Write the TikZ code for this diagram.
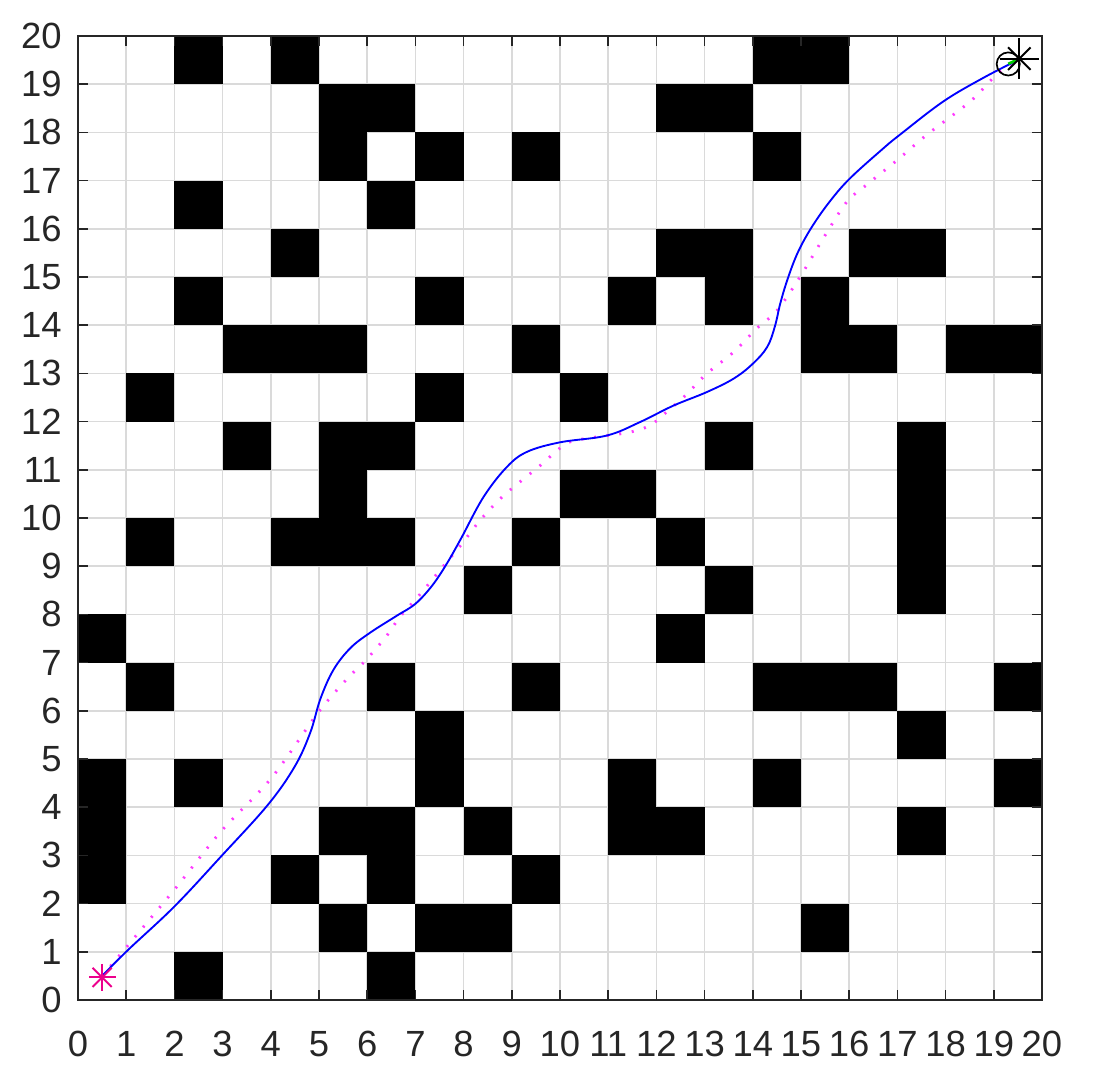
\documentclass[tikz,border=0pt]{standalone}
\usepackage{fontspec}
\setmainfont{Liberation Sans}
\usetikzlibrary{calc}
\definecolor{axc}{RGB}{38,38,38}
\definecolor{gridc}{RGB}{218,218,218}
\definecolor{dotc}{RGB}{255,60,255}
\begin{document}
\begin{tikzpicture}[x=1cm,y=1cm,
  lbl/.style={text=axc, font=\fontsize{21.5}{25}\selectfont, inner sep=0pt},
  gridline/.style={gridc, line width=0.9pt},
  tickline/.style={axc, line width=1pt},
  cell/.style={fill=black},
  smoothpath/.style={blue, line width=1.1pt},
  dotpath/.style={dotc, line width=1.7pt, dash pattern=on 1.2pt off 6.3pt},
  startmark/.style={magenta, line width=1.1pt},
  endmark/.style={black, line width=1.2pt}]
\useasboundingbox (-1.618,-1.743) rectangle (21.1,20.747);
% grid
\foreach \i in {1,...,19} {
  \draw[gridline] (\i,0) -- (\i,20);
  \draw[gridline] (0,\i) -- (20,\i);
}
% obstacles
\foreach \r/\cl in {19/{2,4,14,15}, 18/{5,6,12,13}, 17/{5,7,9,14}, 16/{2,6},
  15/{4,12,13,16,17}, 14/{2,7,11,13,15}, 13/{3,4,5,9,15,16,18,19}, 12/{1,7,10},
  11/{3,5,6,13,17}, 10/{5,10,11,17}, 9/{1,4,5,6,9,12,17}, 8/{8,13,17}, 7/{0,12},
  6/{1,6,9,14,15,16,19}, 5/{7,17}, 4/{0,2,7,11,14,19}, 3/{0,5,6,8,11,12,17},
  2/{0,4,6,9}, 1/{5,7,8,15}, 0/{2,6}} {
  \foreach \c in \cl {
    \fill[cell] (\c,\r) rectangle ++(1,1);
  }
}
% axes box, ticks, labels
\draw[axc, line width=1.2pt] (0,0) rectangle (20,20);
\foreach \i in {0,...,20} {
  \draw[tickline] (\i,0) -- (\i,0.2);
  \draw[tickline] (\i,20) -- (\i,19.8);
  \draw[tickline] (0,\i) -- (0.2,\i);
  \draw[tickline] (20,\i) -- (19.8,\i);
  \node[lbl, anchor=east] (yl\i) at (-0.33,\i) {\i};
  \node[lbl] (xl\i) at (\i,-0.91) {\i};
}
% dotted reference path
\draw[dotpath] plot[smooth, tension=0.5] coordinates {
 (0.5,0.5) (0.9,0.97) (2.0,2.29) (2.97,3.5) (4.01,4.6) (4.98,5.96) (5.57,6.65)
 (5.99,7.07) (6.4,7.55) (6.68,7.95) (7.1,8.42) (7.58,9.0) (7.96,9.46) (8.34,9.95)
 (8.76,10.4) (9.17,10.75) (9.59,11.09) (10.0,11.45) (10.27,11.6) (10.97,11.71)
 (11.45,11.78) (11.87,11.92) (12.21,12.2) (12.6,12.54) (13.04,12.99) (13.6,13.44)
 (14.08,13.93) (14.5,14.3) (14.98,15.0) (15.46,15.8) (15.95,16.56) (16.36,16.91)
 (16.99,17.42) (17.61,17.95) (18.51,18.64) (19.06,19.2) (19.5,19.5)};
% smooth trajectory
\draw[smoothpath] plot[smooth, tension=0.6] coordinates {
 (0.5,0.5) (1.04,1.04) (2.0,1.94) (2.97,2.98) (3.94,4.05) (4.5,4.85) (4.82,5.55)
 (5.03,6.25) (5.3,6.85) (5.65,7.3) (6.06,7.62) (6.61,7.97) (7.0,8.22)
 (7.35,8.6) (7.65,9.05) (7.95,9.58) (8.41,10.43) (8.89,11.05) (9.31,11.37) (10.0,11.57)
 (10.97,11.71) (11.66,11.99) (12.35,12.33) (13.04,12.61) (13.6,12.89) (14.0,13.2)
 (14.3,13.55) (14.46,13.98) (14.57,14.45) (14.72,14.95) (14.93,15.5) (15.22,16.03)
 (15.6,16.57) (16.02,17.05) (16.71,17.67) (17.05,17.95) (17.95,18.64) (18.78,19.13)
 (19.5,19.5)};
% start marker
\coordinate (st) at (0.5,0.47);
\foreach \a in {0,45,90,135} {
  \draw[startmark] ($(st)+(\a:0.28)$) -- ($(st)+(\a+180:0.28)$);
}
% end markers
\coordinate (ec) at (19.3,19.42);
\coordinate (ea) at (19.53,19.53);
\draw[black, line width=1pt] (ec) circle (0.24);
\draw[green!80!black, line width=1.6pt] (ec) -- (ea);
\draw[endmark] ($(ea)+(-0.4,0)$) -- ($(ea)+(0.4,0)$);
\draw[endmark] ($(ea)+(0,-0.42)$) -- ($(ea)+(0,0.42)$);
\draw[endmark] ($(ea)+(45:0.33)$) -- ($(ea)+(225:0.33)$);
\draw[endmark] ($(ea)+(135:0.33)$) -- ($(ea)+(315:0.33)$);
\end{tikzpicture}
\end{document}
